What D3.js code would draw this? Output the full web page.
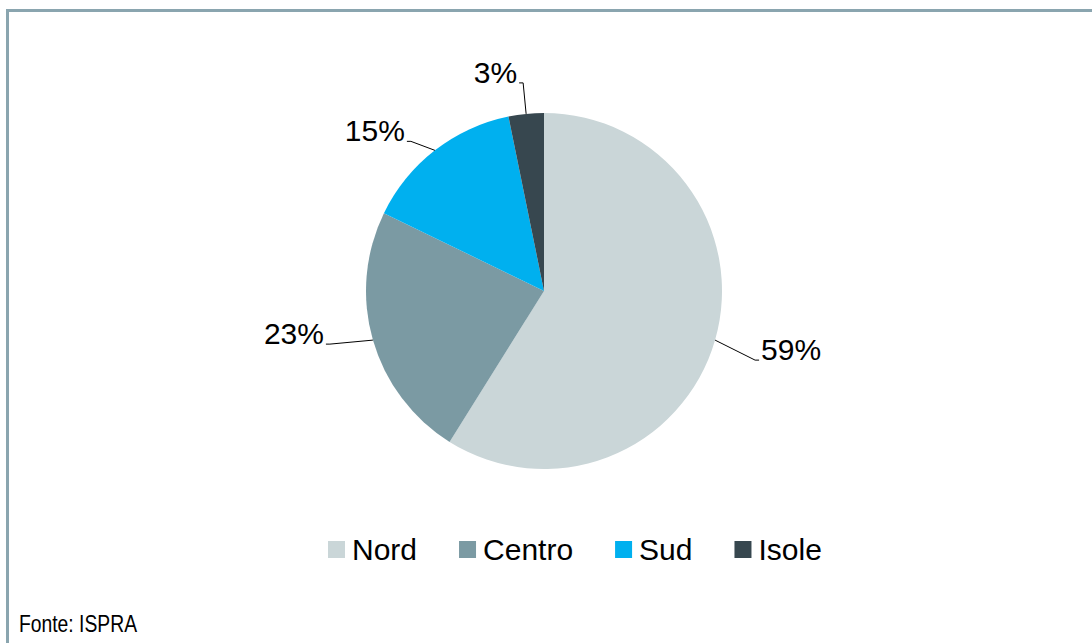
<!DOCTYPE html>
<html>
<head>
<meta charset="utf-8">
<script src="https://cdn.jsdelivr.net/npm/d3@7"></script>
<style>
  body { margin: 0; background: #fff; }
  svg { display: block; font-family: "Liberation Sans", Arial, sans-serif; }
</style>
</head>
<body>
<svg id="chart" width="1092" height="643"></svg>
<script>
// data
const regions = ["Nord", "Centro", "Sud", "Isole"];
const shares = [58.9, 23.3, 14.6, 3.2];
const colors = ["#cad6d8", "#7b9aa3", "#00b0ef", "#37474f"];

// label leader bend, relative to the arc edge point (layout only)
const bend = [[40, 20, "start"], [-43, 4, "end"], [-24, -9, "end"], [-3, -31, "end"]];

const svg = d3.select("#chart");
const W = 1092, H = 643;

// frame (top + left rule)
svg.append("line").attr("x1", 6).attr("x2", W).attr("y1", 10.5).attr("y2", 10.5)
  .attr("stroke", "#8aa5af").attr("stroke-width", 3);
svg.append("line").attr("x1", 7.5).attr("x2", 7.5).attr("y1", 9).attr("y2", H)
  .attr("stroke", "#8aa5af").attr("stroke-width", 3);

const cx = 544, cy = 291, r = 178;

let pie = d3.pie().sort(null).value(d => d);
let arcs = pie(shares);
let arc = d3.arc().innerRadius(0).outerRadius(r);
let edge = d3.arc().innerRadius(r).outerRadius(r);

let g = svg.append("g").attr("transform", "translate(" + cx + "," + cy + ")");

g.selectAll("path.slice")
  .data(arcs)
  .enter().append("path")
  .attr("class", "slice")
  .attr("d", arc)
  .attr("fill", (d, i) => colors[i]);

arcs.forEach(function(d, i) {
  let p = edge.centroid(d);
  let b = [p[0] + bend[i][0], p[1] + bend[i][1]];
  let dir = bend[i][2] == "start" ? 1 : -1;
  let e = [b[0] + dir * 4, b[1]];
  g.append("polyline")
    .attr("points", [p, b, e].map(q => q.join(",")).join(" "))
    .attr("fill", "none")
    .attr("stroke", "#000")
    .attr("stroke-width", 1);
  g.append("text")
    .attr("x", e[0] + dir * 2)
    .attr("y", e[1])
    .attr("text-anchor", bend[i][2])
    .attr("font-size", "30px")
    .attr("fill", "#000")
    .text(Math.round(shares[i]) + "%");
});

// legend
let legend = svg.append("g").attr("transform", "translate(328,541)");
let lx = 0;
regions.forEach(function(name, i) {
  let item = legend.append("g").attr("transform", "translate(" + lx + ",0)");
  item.append("rect").attr("width", 17).attr("height", 17).attr("fill", colors[i]);
  let t = item.append("text")
    .attr("x", 24)
    .attr("y", 19)
    .attr("font-size", "30px")
    .attr("fill", "#000")
    .text(name);
  lx += 24 + t.node().getComputedTextLength() + 42;
});

svg.append("text")
  .attr("transform", "translate(19,632) scale(0.84,1)")
  .attr("font-size", "23px")
  .attr("fill", "#000")
  .text("Fonte: ISPRA");
</script>
</body>
</html>
